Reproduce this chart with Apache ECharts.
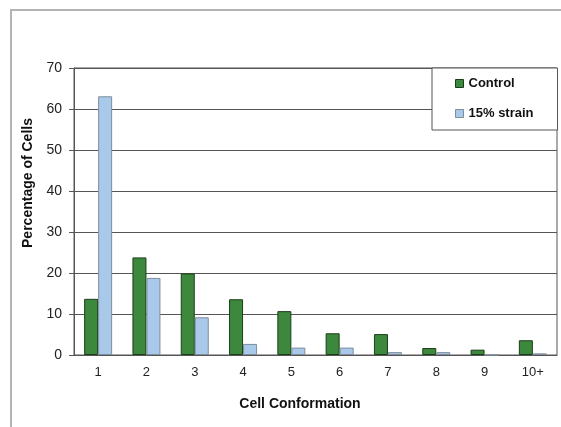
<!DOCTYPE html>
<html>
<head>
<meta charset="utf-8">
<script src="https://cdn.jsdelivr.net/npm/echarts@6/dist/echarts.min.js"></script>
<style>
html,body{margin:0;padding:0;background:#fff;}
#chart{width:561px;height:427px;}
</style>
</head>
<body>
<div id="chart"></div>
<script>
const categories = ['1','2','3','4','5','6','7','8','9','10+'];
const controlValues = [13.7, 23.8, 19.9, 13.6, 10.7, 5.3, 5.1, 1.7, 1.3, 3.6];
const strainValues = [63.1, 18.8, 9.2, 2.7, 1.8, 1.8, 0.7, 0.7, 0, 0.4];
const seriesNames = ['Control', '15% strain'];
const yAxisTitle = 'Percentage of Cells';
const xAxisTitle = 'Cell Conformation';

const chart = echarts.init(document.getElementById('chart'), null, {renderer: 'canvas'});
const font = 'Liberation Sans, Arial, sans-serif';
chart.setOption({
  animation: false,
  backgroundColor: '#fff',
  grid: {left: 74, right: 4, top: 68, bottom: 72, show: true, borderColor: '#555', borderWidth: 1, backgroundColor: 'transparent'},
  legend: {
    data: seriesNames,
    orient: 'vertical',
    left: 432, top: 68,
    padding: [9, 24, 10, 23],
    itemGap: 17,
    icon: 'rect',
    itemWidth: 8, itemHeight: 8,
    itemStyle: {borderWidth: 1},
    backgroundColor: '#fff',
    borderColor: '#555', borderWidth: 1,
    textStyle: {fontFamily: font, fontSize: 13, fontWeight: 'bold', color: '#111'}
  },
  xAxis: {
    type: 'category',
    data: categories,
    axisLine: {lineStyle: {color: '#555'}},
    axisTick: {length: 5, lineStyle: {color: '#888'}},
    axisLabel: {fontFamily: font, fontSize: 13, color: '#222', margin: 11}
  },
  yAxis: {
    type: 'value', min: 0, max: 70, interval: 10,
    axisLine: {show: true, lineStyle: {color: '#555'}},
    axisTick: {show: true, length: 5, lineStyle: {color: '#555'}},
    splitLine: {lineStyle: {color: '#555', width: 1}},
    axisLabel: {fontFamily: font, fontSize: 14, color: '#222', margin: 12}
  },
  series: [
    {name: seriesNames[0], type: 'bar', data: controlValues, barWidth: 14, barGap: '0%',
     itemStyle: {color: '#3c883c', borderColor: '#1c3d1c', borderWidth: 1}},
    {name: seriesNames[1], type: 'bar', data: strainValues, barWidth: 14,
     itemStyle: {color: '#a8c9ea', borderColor: '#7f8c99', borderWidth: 1}}
  ],
  graphic: [
    {type: 'rect', shape: {x: 11, y: 10, width: 700, height: 600}, style: {fill: 'none', stroke: '#b4b4b4', lineWidth: 2}, silent: true, z: -10},
    {type: 'text', x: 28, y: 183, rotation: Math.PI/2,
     style: {text: yAxisTitle, font: 'bold 14px Liberation Sans, Arial, sans-serif', fill: '#111', align: 'center', verticalAlign: 'middle'}},
    {type: 'text', x: 300, y: 404,
     style: {text: xAxisTitle, font: 'bold 14px Liberation Sans, Arial, sans-serif', fill: '#111', align: 'center', verticalAlign: 'middle'}}
  ]
});
</script>
</body>
</html>
